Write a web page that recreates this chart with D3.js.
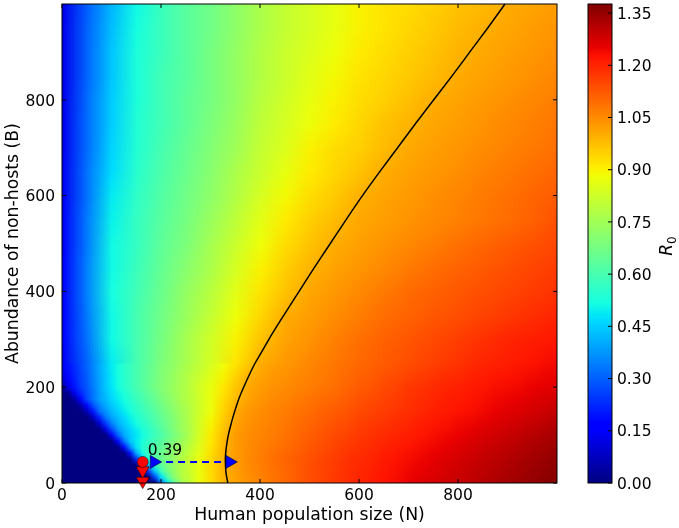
<!DOCTYPE html>
<html><head><meta charset="utf-8">
<script src="https://cdn.jsdelivr.net/npm/d3@7"></script>
<style>
body{margin:0;background:#fff}
#wrap{position:relative;width:679px;height:528px}
#heat,#chart{position:absolute;left:0;top:0}
text{font-family:"DejaVu Sans",sans-serif}
</style>
</head><body>
<div id="wrap"><canvas id="heat" width="679" height="528"></canvas><svg id="chart" width="679" height="528"></svg></div>
<script>
// ---------------- data (R0) ----------------
// lower band: B = 0..250 step 25, N step 25
const lowN = [0,25,50,75,100,125,150,175,200,225,250,275,300,325,350,375,400,425,450,475,500,525,550,575,600,625,650,675,700,725,750,775,800,825,850,875,900,925,950,975,1000];
const lowB = [0,25,50,75,100,125,150,175,200,225,250];
const lowB0   = [0,0,0,0,0,0,0,0,.30,.62,.78,.87,.93,.985,1.015,1.04,1.06,1.08,1.10,1.12,1.14,1.155,1.17,1.185,1.20,1.21,1.225,1.235,1.25,1.26,1.27,1.28,1.29,1.30,1.31,1.32,1.33,1.34,1.35,1.36,1.37];
const lowB25  = [0,0,0,0,0,0,0,.27,.60,.73,.80,.87,.932,.988,1.02,1.045,1.065,1.085,1.10,1.12,1.138,1.153,1.168,1.183,1.195,1.205,1.22,1.23,1.243,1.253,1.263,1.273,1.283,1.293,1.303,1.313,1.323,1.333,1.343,1.353,1.363];
const lowB50  = [0,0,0,0,0,0,.22,.54,.65,.74,.80,.87,.935,.99,1.025,1.05,1.07,1.09,1.105,1.12,1.135,1.15,1.165,1.18,1.19,1.20,1.215,1.225,1.235,1.245,1.255,1.265,1.275,1.285,1.295,1.305,1.315,1.325,1.335,1.345,1.355];
const lowB75  = [0,0,0,0,0,.18,.48,.58,.64,.71,.78,.85,.92,.985,1.025,1.047,1.065,1.08,1.095,1.11,1.125,1.14,1.155,1.168,1.18,1.19,1.203,1.213,1.223,1.233,1.243,1.253,1.263,1.273,1.283,1.293,1.303,1.313,1.323,1.333,1.343];
const lowB100 = [0,0,0,0,.14,.40,.48,.55,.61,.68,.75,.835,.91,.975,1.025,1.045,1.06,1.07,1.085,1.10,1.115,1.13,1.145,1.155,1.17,1.18,1.19,1.20,1.21,1.22,1.23,1.24,1.25,1.26,1.27,1.28,1.29,1.30,1.31,1.32,1.33];
const lowB125 = [0,0,0,.10,.36,.45,.52,.575,.635,.695,.76,.83,.895,.96,1.015,1.04,1.053,1.065,1.078,1.093,1.105,1.12,1.133,1.143,1.158,1.168,1.178,1.188,1.198,1.208,1.218,1.228,1.238,1.245,1.255,1.265,1.275,1.283,1.293,1.303,1.313];
const lowB150 = [0,0,.07,.32,.42,.49,.55,.60,.655,.71,.765,.825,.88,.945,1.005,1.03,1.045,1.06,1.07,1.085,1.095,1.11,1.12,1.13,1.145,1.155,1.165,1.175,1.185,1.195,1.205,1.215,1.225,1.23,1.24,1.25,1.26,1.265,1.275,1.285,1.295];
const lowB175 = [0,.04,.27,.385,.46,.52,.575,.625,.68,.73,.775,.825,.875,.93,.98,1.015,1.035,1.05,1.06,1.073,1.083,1.095,1.105,1.118,1.133,1.143,1.155,1.165,1.178,1.188,1.198,1.208,1.215,1.223,1.23,1.24,1.248,1.253,1.263,1.27,1.278];
const lowB200 = [.03,.20,.29,.39,.48,.545,.60,.65,.70,.74,.78,.83,.87,.915,.965,1.005,1.025,1.04,1.05,1.06,1.07,1.08,1.09,1.105,1.12,1.13,1.145,1.155,1.17,1.18,1.19,1.20,1.205,1.215,1.22,1.23,1.235,1.24,1.25,1.255,1.26];
const lowB225 = [.12,.22,.30,.395,.485,.548,.60,.648,.695,.735,.778,.815,.855,.895,.945,.99,1.012,1.03,1.04,1.052,1.063,1.073,1.084,1.098,1.11,1.12,1.133,1.143,1.155,1.165,1.175,1.185,1.193,1.203,1.21,1.218,1.223,1.23,1.238,1.245,1.25];
const lowB250 = [.14,.23,.31,.40,.49,.55,.60,.645,.69,.725,.765,.80,.84,.88,.92,.96,1.002,1.018,1.03,1.043,1.055,1.067,1.078,1.09,1.10,1.11,1.12,1.13,1.14,1.15,1.16,1.17,1.18,1.19,1.20,1.205,1.21,1.22,1.225,1.235,1.24];

// corner detail: B = 0..250 step 12.5, N = 0..250 step 12.5
const fineN = [0,12.5,25,37.5,50,62.5,75,87.5,100,112.5,125,137.5,150,162.5,175,187.5,200,212.5,225,237.5,250];
const fineB = [0,12.5,25,37.5,50,62.5,75,87.5,100,112.5,125,137.5,150,162.5,175,187.5,200,212.5,225,237.5,250];
const fineB0    = [0,0,0,0,0,0,0,0,0,0,0,0,0,0,0,0,.30,.49,.62,.72,.78];
const fineB12   = [0,0,0,0,0,0,0,0,0,0,0,0,0,0,0,.27,.47,.60,.70,.76,.81];
const fineB25   = [0,0,0,0,0,0,0,0,0,0,0,0,0,0,.25,.44,.58,.67,.72,.77,.81];
const fineB37   = [0,0,0,0,0,0,0,0,0,0,0,0,0,.26,.42,.55,.63,.685,.73,.77,.80];
const fineB50   = [0,0,0,0,0,0,0,0,0,0,0,0,.22,.45,.55,.61,.65,.69,.73,.77,.80];
const fineB62   = [0,0,0,0,0,0,0,0,0,0,0,.19,.40,.51,.58,.62,.655,.69,.72,.755,.785];
const fineB75   = [0,0,0,0,0,0,0,0,0,0,.18,.36,.48,.54,.58,.61,.64,.675,.71,.745,.78];
const fineB87   = [0,0,0,0,0,0,0,0,0,.16,.33,.44,.49,.53,.565,.595,.625,.66,.695,.73,.765];
const fineB100  = [0,0,0,0,0,0,0,0,.14,.30,.40,.445,.48,.515,.55,.58,.61,.645,.68,.715,.75];
const fineB112  = [0,0,0,0,0,0,0,.12,.27,.37,.42,.46,.495,.53,.56,.59,.625,.66,.695,.73,.76];
const fineB125  = [0,0,0,0,0,0,.10,.25,.35,.41,.45,.485,.52,.55,.575,.605,.635,.665,.695,.73,.76];
const fineB137  = [0,0,0,0,0,.08,.22,.33,.39,.43,.465,.50,.535,.56,.59,.615,.645,.675,.70,.735,.765];
const fineB150  = [0,0,0,0,.07,.20,.32,.37,.42,.455,.49,.52,.55,.575,.60,.628,.655,.683,.71,.738,.765];
const fineB162  = [0,0,0,.05,.18,.28,.35,.40,.44,.475,.505,.535,.56,.587,.613,.64,.668,.695,.72,.75,.775];
const fineB175  = [0,0,.04,.16,.27,.33,.385,.42,.46,.49,.52,.548,.575,.60,.625,.652,.68,.705,.73,.755,.78];
const fineB187  = [0,.02,.13,.22,.28,.33,.385,.43,.47,.50,.53,.558,.585,.61,.635,.66,.69,.712,.735,.758,.78];
const fineB200  = [.03,.12,.20,.25,.29,.34,.39,.44,.48,.515,.545,.572,.60,.625,.65,.675,.70,.72,.74,.76,.78];
const fineB212  = [.08,.16,.21,.26,.295,.345,.39,.44,.482,.517,.546,.573,.60,.624,.648,.672,.695,.715,.735,.755,.775];
const fineB225  = [.12,.18,.22,.26,.30,.35,.395,.44,.485,.518,.548,.574,.60,.624,.648,.672,.695,.715,.735,.757,.778];
const fineB237  = [.135,.19,.225,.265,.305,.353,.398,.445,.488,.52,.549,.575,.60,.623,.647,.67,.693,.71,.73,.75,.772];
const fineB250  = [.14,.195,.23,.27,.31,.355,.40,.447,.49,.52,.55,.575,.60,.623,.645,.668,.69,.708,.725,.745,.765];

// upper band: B = 250..1000 step 50, N step 50
const upN = [0,50,100,150,200,250,300,350,400,450,500,550,600,650,700,750,800,850,900,950,1000];
const upB = [250,300,350,400,450,500,550,600,650,700,750,800,850,900,950,1000];
const upB250  = [.14,.31,.49,.60,.69,.765,.84,.92,1.002,1.03,1.055,1.078,1.10,1.12,1.14,1.16,1.18,1.20,1.21,1.225,1.24];
const upB300  = [.15,.33,.51,.60,.68,.76,.83,.90,.97,1.015,1.04,1.065,1.09,1.111,1.129,1.146,1.164,1.182,1.20,1.21,1.22];
const upB350  = [.15,.34,.51,.60,.67,.74,.81,.88,.94,1.0,1.023,1.047,1.07,1.093,1.11,1.125,1.14,1.155,1.17,1.185,1.20];
const upB400  = [.15,.35,.52,.59,.66,.73,.79,.86,.92,.97,1.01,1.03,1.052,1.074,1.096,1.111,1.125,1.139,1.152,1.166,1.18];
const upB450  = [.15,.35,.51,.58,.65,.71,.77,.84,.90,.95,.99,1.015,1.034,1.053,1.073,1.092,1.108,1.123,1.137,1.151,1.165];
const upB500  = [.145,.34,.51,.57,.64,.69,.76,.82,.88,.93,.97,1.0,1.019,1.036,1.053,1.07,1.087,1.103,1.119,1.134,1.15];
const upB550  = [.145,.34,.50,.57,.63,.68,.74,.80,.86,.91,.95,.98,1.007,1.022,1.036,1.051,1.065,1.08,1.094,1.113,1.135];
const upB600  = [.14,.33,.49,.56,.62,.67,.72,.78,.84,.89,.93,.96,.995,1.013,1.028,1.044,1.059,1.074,1.089,1.105,1.12];
const upB650  = [.14,.33,.47,.55,.61,.66,.71,.77,.82,.87,.91,.94,.97,1.0,1.017,1.032,1.046,1.061,1.076,1.09,1.105];
const upB700  = [.135,.32,.46,.54,.60,.65,.70,.75,.81,.85,.90,.93,.95,.98,1.006,1.02,1.034,1.048,1.062,1.076,1.09];
const upB750  = [.135,.32,.45,.54,.59,.64,.69,.74,.80,.84,.88,.91,.94,.97,.99,1.01,1.024,1.038,1.052,1.066,1.08];
const upB800  = [.13,.32,.45,.53,.59,.64,.68,.73,.79,.83,.87,.90,.93,.95,.975,1.0,1.014,1.028,1.042,1.056,1.07];
const upB850  = [.13,.31,.44,.53,.59,.63,.68,.73,.78,.82,.86,.89,.92,.94,.96,.98,1.003,1.016,1.029,1.042,1.055];
const upB900  = [.13,.31,.44,.53,.58,.63,.68,.73,.78,.82,.85,.88,.91,.93,.95,.97,.99,1.007,1.019,1.032,1.045];
const upB950  = [.13,.31,.43,.52,.58,.63,.67,.72,.77,.81,.84,.87,.90,.92,.94,.96,.98,.996,1.01,1.023,1.035];
const upB1000 = [.13,.30,.42,.51,.58,.63,.67,.72,.77,.81,.84,.87,.90,.92,.93,.95,.97,.98,1.001,1.013,1.025];

// R0 = 1 contour
const contourN = [335,331,330,332,336,342,349,357,367,378,390,404,418,448,479,510,542,574,607,642,678,714,751,788,824,860,895];
const contourB = [0,25,50,75,100,125,150,175,200,225,250,275,300,350,400,450,500,550,600,650,700,750,800,850,900,950,1000];

// annotation
const pointN = [163], pointB = [44], pointLabel = ["0.39"];
const dropN = [163,163,163], dropB = [44,26,4];
const arrowN = [186,339], arrowB = [44,44];

// ticks
const xTicks = [0,200,400,600,800];
const yTicks = [0,200,400,600,800];
const cbTicks = [0,0.15,0.30,0.45,0.60,0.75,0.90,1.05,1.20,1.35];
const cbTickLabels = ["0.00","0.15","0.30","0.45","0.60","0.75","0.90","1.05","1.20","1.35"];
const xLabel = "Human population size (N)";
const yLabel = "Abundance of non-hosts (B)";

// ---------------- drawing ----------------
const plot = {l:62, r:557, t:4, b:483};
const cb = {l:588, r:612};
const vmax = 1.376;
const x = d3.scaleLinear().domain([0,1000]).range([plot.l, plot.r]);
const y = d3.scaleLinear().domain([0,1000]).range([plot.b, plot.t]);
const cy = d3.scaleLinear().domain([0,vmax]).range([plot.b, plot.t]);

const jetR = d3.scaleLinear().domain([0,.35,.66,.89,1].map(t=>t*vmax)).range([0,0,1,1,.5]).clamp(true);
const jetG = d3.scaleLinear().domain([0,.125,.375,.64,.91,1].map(t=>t*vmax)).range([0,0,1,1,0,0]).clamp(true);
const jetB = d3.scaleLinear().domain([0,.11,.34,.65,1].map(t=>t*vmax)).range([.5,1,1,0,0]).clamp(true);
const jet = v => [jetR(v),jetG(v),jetB(v)].map(c=>Math.round(c*255));
const jetCss = v => { const c = jet(v); return `rgb(${c[0]},${c[1]},${c[2]})`; };

const hctx = document.getElementById('heat').getContext('2d');
function drawGrid(nv, bv, rows, n0, n1, b0, b1){
  const nc = nv.length, nr = bv.length;
  const small = document.createElement('canvas');
  small.width = nc; small.height = nr;
  const sctx = small.getContext('2d');
  const img = sctx.createImageData(nc, nr);
  rows.forEach((row, j) => row.forEach((v, i) => {
    const c = jet(v), k = ((nr-1-j)*nc + i)*4;
    img.data[k]=c[0]; img.data[k+1]=c[1]; img.data[k+2]=c[2]; img.data[k+3]=255;
  }));
  sctx.putImageData(img, 0, 0);
  const dn = nv[1]-nv[0], db = bv[1]-bv[0];
  const X0 = x(nv[0]-dn/2), X1 = x(nv[nc-1]+dn/2);
  const Y0 = y(bv[nr-1]+db/2), Y1 = y(bv[0]-db/2);
  hctx.save();
  hctx.beginPath();
  hctx.rect(x(n0), y(b1), x(n1)-x(n0), y(b0)-y(b1));
  hctx.clip();
  hctx.imageSmoothingEnabled = true;
  hctx.drawImage(small, X0, Y0, X1-X0, Y1-Y0);
  hctx.restore();
}
drawGrid(lowN, lowB, [lowB0,lowB25,lowB50,lowB75,lowB100,lowB125,lowB150,lowB175,lowB200,lowB225,lowB250], 0, 1000, 0, 262);
drawGrid(fineN, fineB, [fineB0,fineB12,fineB25,fineB37,fineB50,fineB62,fineB75,fineB87,fineB100,fineB112,fineB125,fineB137,fineB150,fineB162,fineB175,fineB187,fineB200,fineB212,fineB225,fineB237,fineB250], 0, 250, 0, 250);
drawGrid(upN, upB, [upB250,upB300,upB350,upB400,upB450,upB500,upB550,upB600,upB650,upB700,upB750,upB800,upB850,upB900,upB950,upB1000], 0, 1000, 250, 1000);

const svg = d3.select('#chart');
const defs = svg.append('defs');

// contour (ordered top to bottom so screen y increases)
const cpts = contourN.map((n,i)=>[x(n), y(contourB[i])]).reverse();
svg.append('path').attr('d', d3.line().curve(d3.curveMonotoneY)(cpts))
  .attr('fill','none').attr('stroke','#000').attr('stroke-width',1.5);

// annotation lines
svg.append('path').datum(dropN.map((n,i)=>[n,dropB[i]]))
  .attr('d', d3.line().x(d=>x(d[0])).y(d=>y(d[1])))
  .attr('fill','none').attr('stroke','#ff0000').attr('stroke-width',2).attr('stroke-dasharray','6,4');
svg.append('path').datum(arrowN.map((n,i)=>[n,arrowB[i]]))
  .attr('d', d3.line().x(d=>x(d[0])).y(d=>y(d[1])))
  .attr('fill','none').attr('stroke','#0000ff').attr('stroke-width',2).attr('stroke-dasharray','7,5');
const tri = d3.symbol().type(d3.symbolTriangle).size(75);
svg.selectAll('.dtri').data(dropN.slice(1).map((n,i)=>[n,dropB[i+1]])).join('path')
  .attr('d', tri).attr('transform', d=>`translate(${x(d[0])},${y(d[1])}) rotate(180)`)
  .attr('fill','#ff0000').attr('stroke','#000').attr('stroke-width',0.5);
svg.selectAll('.atri').data(arrowN.map((n,i)=>[n,arrowB[i]])).join('path')
  .attr('d', tri).attr('transform', d=>`translate(${x(d[0])},${y(d[1])}) rotate(90)`)
  .attr('fill','#0000ff').attr('stroke','#000').attr('stroke-width',0.5);
svg.selectAll('.pt').data(pointN.map((n,i)=>[n,pointB[i]])).join('circle')
  .attr('cx', d=>x(d[0])).attr('cy', d=>y(d[1])).attr('r',5.5)
  .attr('fill','#ff0000').attr('stroke','#000').attr('stroke-width',0.5);
svg.selectAll('.ptl').data(pointLabel).join('text')
  .attr('x', x(pointN[0])+5).attr('y', y(pointB[0])-7)
  .attr('font-size',15.5).attr('fill','#000').text(d=>d);

// frame
svg.append('rect').attr('x',plot.l).attr('y',plot.t).attr('width',plot.r-plot.l).attr('height',plot.b-plot.t)
  .attr('fill','none').attr('stroke','#000').attr('stroke-width',1);

// ticks
const tl = 4;
xTicks.forEach(t => {
  svg.append('line').attr('x1',x(t)).attr('x2',x(t)).attr('y1',plot.b).attr('y2',plot.b-tl).attr('stroke','#000');
  svg.append('line').attr('x1',x(t)).attr('x2',x(t)).attr('y1',plot.t).attr('y2',plot.t+tl).attr('stroke','#000');
  svg.append('text').attr('x',x(t)).attr('y',plot.b+17).attr('text-anchor','middle').attr('font-size',15.5).text(t);
});
yTicks.forEach(t => {
  svg.append('line').attr('x1',plot.l).attr('x2',plot.l+tl).attr('y1',y(t)).attr('y2',y(t)).attr('stroke','#000');
  svg.append('line').attr('x1',plot.r).attr('x2',plot.r-tl).attr('y1',y(t)).attr('y2',y(t)).attr('stroke','#000');
  svg.append('text').attr('x',plot.l-7).attr('y',y(t)+5.7).attr('text-anchor','end').attr('font-size',15.5).text(t);
});
svg.append('text').attr('x',(plot.l+plot.r)/2).attr('y',520).attr('text-anchor','middle').attr('font-size',17.3).text(xLabel);
svg.append('text').attr('transform',`translate(18,${(plot.t+plot.b)/2}) rotate(-90)`).attr('text-anchor','middle').attr('font-size',17.3).text(yLabel);

// colorbar
const grad = defs.append('linearGradient').attr('id','jetgrad').attr('x1',0).attr('y1',1).attr('x2',0).attr('y2',0);
[0,.11,.125,.34,.35,.375,.64,.65,.66,.89,.91,1].forEach(t => {
  grad.append('stop').attr('offset',t).attr('stop-color',jetCss(t*vmax));
});
svg.append('rect').attr('x',cb.l).attr('y',plot.t).attr('width',cb.r-cb.l).attr('height',plot.b-plot.t)
  .attr('fill','url(#jetgrad)').attr('stroke','#000').attr('stroke-width',1);
cbTicks.forEach((t,i) => {
  svg.append('line').attr('x1',cb.r).attr('x2',cb.r-tl).attr('y1',cy(t)).attr('y2',cy(t)).attr('stroke','#000');
  svg.append('text').attr('x',cb.r+5).attr('y',cy(t)+5.7).attr('font-size',15.5).text(cbTickLabels[i]);
});
const rl = svg.append('text').attr('transform',`translate(672,246) rotate(-90)`).attr('text-anchor','middle')
  .attr('font-size',17).attr('font-style','italic');
rl.append('tspan').text('R');
rl.append('tspan').attr('font-size',12).attr('dy',4).attr('font-style','normal').text('0');
</script>
</body></html>
